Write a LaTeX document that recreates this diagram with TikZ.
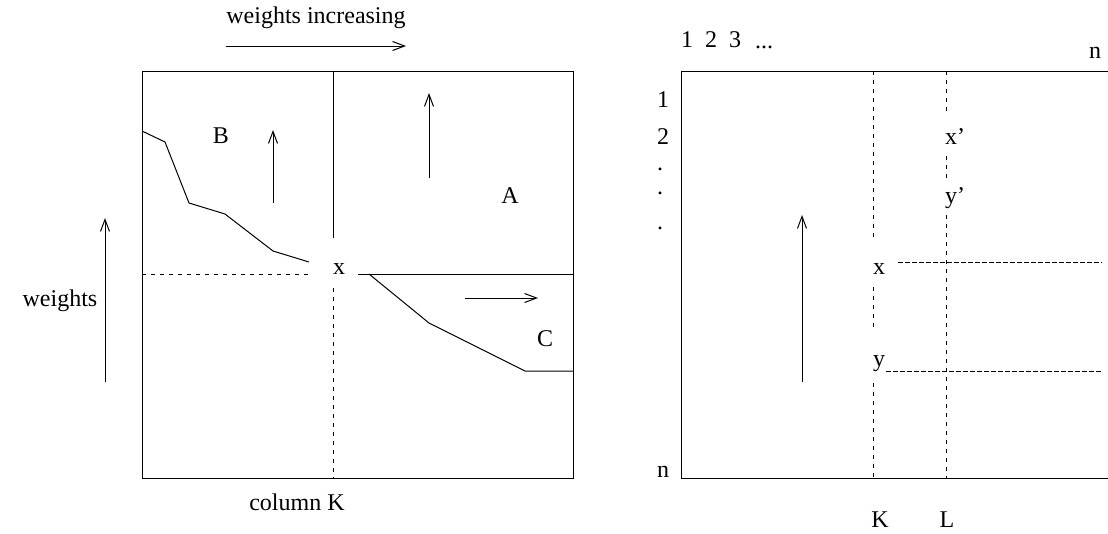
\documentclass[tikz,border=0pt]{standalone}
\usepackage{fontspec}
\setmainfont{Liberation Serif}
\usetikzlibrary{arrows.meta}

\begin{document}
\begin{tikzpicture}[x=1pt,y=-1pt,line width=1pt,
  lbl/.style={inner sep=0pt,font=\fontsize{24}{28}\selectfont},
  dotln/.style={dash pattern=on 4pt off 5pt},
  dashln/.style={dash pattern=on 5pt off 2pt},
  >={Straight Barb[length=12pt,width=9pt,line width=1pt]}]
\useasboundingbox (0,0) rectangle (1108,533);
% left matrix
\draw (142,71) rectangle (573,478);
\draw (333,71) -- (333,238);
\draw[dotln] (333,288) -- (333,478);
\draw[dotln] (142,274) -- (308,274);
\draw (358,274) -- (573,274);
\draw (142,131) -- (165,142) -- (189,203) -- (225,214) -- (273,251) -- (309,262);
\draw (369,274) -- (429,323) -- (525,371) -- (573,371);
\node[lbl] (xl) at (339,269) {x};
\node[lbl] (bl) at (221,136) {B};
\node[lbl] (al) at (510,196) {A};
\node[lbl] (cl) at (545,339) {C};
\draw[->] (273,203) -- (273,130);
\draw[->] (429,178) -- (429,93);
\draw[->] (465,298) -- (538,298);
\node[lbl] (winc) at (316,18) {weights increasing};
\draw[->] (226,46) -- (406,46);
\node[lbl] (wts) at (60,301) {weights};
\draw[->] (105,382) -- (105,218);
\node[lbl] (colk) at (297,502) {column K};
% right matrix
\draw (1108,71) -- (681,71) -- (681,478) -- (1108,478);
\draw[dotln] (873,71) -- (873,237);
\draw[dotln] (873,287) -- (873,330);
\draw[dotln] (873,383) -- (873,478);
\draw[dotln] (946,71) -- (946,115);
\draw[dotln] (946,156) -- (946,178);
\draw[dotln] (946,215) -- (946,478);
\draw[dashln] (898,262) -- (1102,262);
\draw[dashln] (886,371) -- (1102,371);
\draw[->] (802,382) -- (802,215);
\node[lbl] (xr) at (879,269) {x};
\node[lbl] (yr) at (879,364) {y};
\node[lbl] (xp) at (955,137) {x'};
\node[lbl] (yp) at (955,198) {y'};
\node[lbl] (c1) at (687,40) {1};
\node[lbl] (c2) at (711,40) {2};
\node[lbl] (c3) at (735,40) {3};
\node[lbl,anchor=base] (cd) at (764,48) {.{}.{}.};
\node[lbl] (cn) at (1095,53) {n};
\node[lbl] (r1) at (663,100) {1};
\node[lbl] (r2) at (663,137) {2};
\node[lbl] (rd1) at (660,169) {.};
\node[lbl] (rd2) at (660,193) {.};
\node[lbl] (rd3) at (660,228) {.};
\node[lbl] (rn) at (663,472) {n};
\node[lbl] (kl) at (880,520) {K};
\node[lbl] (ll) at (947,520) {L};
\end{tikzpicture}
\end{document}
